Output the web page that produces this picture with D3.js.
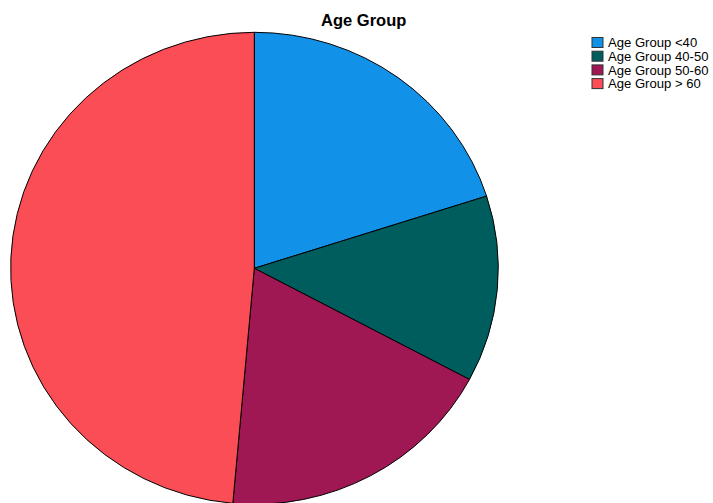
<!DOCTYPE html>
<html>
<head>
<meta charset="utf-8">
<script src="https://cdn.jsdelivr.net/npm/d3@7"></script>
<style>
  html, body { margin: 0; padding: 0; background: #fff; }
  svg { display: block; }
</style>
</head>
<body>
<script>
// Share of respondents per age group (%)
const categories = ["Age Group <40", "Age Group 40-50", "Age Group 50-60", "Age Group > 60"];
const values = [20.05, 12.75, 18.6, 48.6];
const colors = ["#1192e8", "#005d5d", "#9f1853", "#fa4d56"];
const title = "Age Group";

const W = 713, H = 503;
const cx = 254.3, cy = 268.3, rx = 244, ry = 236;

const svg = d3.select("body").append("svg")
  .attr("width", W).attr("height", H);

svg.append("text")
  .attr("x", 363.7).attr("y", 25.5)
  .attr("text-anchor", "middle")
  .attr("font-family", "Liberation Sans, Arial, sans-serif")
  .attr("font-weight", "bold")
  .attr("font-size", 16.5)
  .attr("fill", "#000")
  .text(title);

const pie = d3.pie().sort(null).value(d => d);
const arc = d3.arc().innerRadius(0).outerRadius(1);

// unit-circle arcs stretched to the plot ellipse
const g = svg.append("g")
  .attr("transform", `translate(${cx},${cy}) scale(${rx},${ry})`);

g.selectAll("path")
  .data(pie(values))
  .join("path")
  .attr("d", arc)
  .attr("fill", (d, i) => colors[i])
  .attr("stroke", "#000")
  .attr("stroke-width", 1)
  .attr("vector-effect", "non-scaling-stroke")
  .attr("stroke-linejoin", "round");

// legend
const legend = svg.append("g").attr("transform", "translate(591.5,37)");
const rowH = 13.7;
const item = legend.selectAll("g")
  .data(categories)
  .join("g")
  .attr("transform", (d, i) => `translate(0,${i * rowH})`);

item.append("rect")
  .attr("x", 0.5).attr("y", 0.5)
  .attr("width", 11).attr("height", 10)
  .attr("fill", (d, i) => colors[i])
  .attr("stroke", "#333")
  .attr("stroke-width", 1);

item.append("text")
  .attr("x", 16.5).attr("y", 10.3)
  .attr("font-family", "Liberation Sans, Arial, sans-serif")
  .attr("font-size", 13.1)
  .attr("fill", "#000")
  .text(d => d);
</script>
</body>
</html>
